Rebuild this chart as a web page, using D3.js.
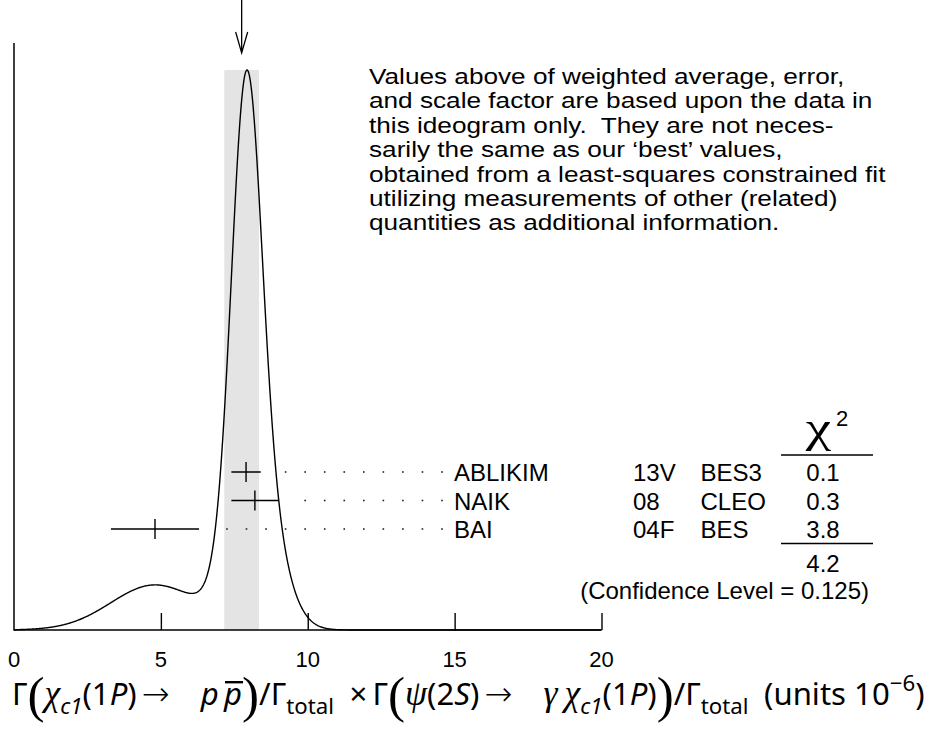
<!DOCTYPE html>
<meta charset="utf-8">
<style>
    body { margin: 0; background: #fff; }
    svg text { font-family: "Liberation Sans", Arial, sans-serif; fill: #000; }
    .tick-label { font-family: "Liberation Sans Narrow", "Liberation Sans", sans-serif; font-size: 22px; }
    .title, .title tspan { font-family: "Noto Sans", "Liberation Sans", sans-serif; }
</style>
<svg width="939" height="735"></svg>
<script src="https://cdn.jsdelivr.net/npm/d3@7"></script>
<script>
    // measurements shown in the ideogram
    var authors = ["ABLIKIM", "NAIK", "BAI"],
        docIds = ["13V", "08", "04F"],
        techs = ["BES3", "CLEO", "BES"],
        values = [7.9, 8.2, 4.8],
        errors = [0.5, 0.8, 1.5],
        chi2 = ["0.1", "0.3", "3.8"],
        chi2Total = "4.2",
        confLevel = "0.125",
        average = 7.75,
        averageError = 0.59,
        xTicks = [0, 5, 10, 15, 20];

    var note = [
        "Values above of weighted average, error,",
        "and scale factor are based upon the data in",
        "this ideogram only.  They are not neces-",
        "sarily the same as our \u2018best\u2019 values,",
        "obtained from a least-squares constrained fit",
        "utilizing measurements of other (related)",
        "quantities as additional information."
    ];

    var svg = d3.select("svg"),
        x = d3.scaleLinear().domain([0, 20]).range([14, 601.5]),
        baseY = 630,
        rowY = d3.scalePoint().domain(authors).range([472, 529]);

    // ideogram: every measurement is a gaussian with area proportional to 1/sigma
    function ideogram(v) {
        return d3.sum(values, function (m, i) {
            var s = errors[i];
            return Math.exp(-(v - m) * (v - m) / (2 * s * s)) / (s * s);
        });
    }
    var samples = d3.range(0, 20.001, 0.02).map(function (v) { return [v, ideogram(v)]; }),
        y = d3.scaleLinear().domain([0, d3.max(samples, function (d) { return d[1]; })]).range([baseY, 70]);

    // shaded band of weighted average +- error
    svg.append("rect")
        .attr("x", x(average - averageError))
        .attr("y", y.range()[1])
        .attr("width", x(average + averageError) - x(average - averageError))
        .attr("height", baseY - y.range()[1])
        .attr("fill", "#e4e4e4");

    // arrow at weighted average
    var ax = x(average);
    svg.append("path")
        .attr("d", "M" + ax + ",0V53M" + (ax - 6) + ",32L" + ax + ",53L" + (ax + 6) + ",32")
        .attr("fill", "none").attr("stroke", "#000").attr("stroke-width", 1.3);

    // curve
    svg.append("path")
        .attr("d", d3.line().x(function (d) { return x(d[0]); }).y(function (d) { return y(d[1]); })(samples))
        .attr("fill", "none").attr("stroke", "#000").attr("stroke-width", 1.4);

    // axes
    var xAxis = d3.axisTop(x).tickValues(xTicks.slice(1)).tickSize(17).tickFormat("");
    var gx = svg.append("g").attr("transform", "translate(0," + baseY + ")").call(xAxis);
    gx.select(".domain").remove();
    gx.selectAll("line").attr("stroke", "#000").attr("stroke-width", 1.4);
    svg.append("path")
        .attr("d", "M" + x(0) + ",43V" + baseY + "H" + x(20))
        .attr("fill", "none").attr("stroke", "#000").attr("stroke-width", 1.5);

    svg.selectAll(".tick-label").data(xTicks).enter().append("text")
        .attr("class", "tick-label")
        .attr("x", function (d) { return x(d); })
        .attr("y", 667)
        .attr("text-anchor", "middle")
        .text(function (d) { return d; });

    // measurements: dotted leaders, error bars
    var dotStep = 19.55, dotEnd = 442;
    authors.forEach(function (a, i) {
        var yy = rowY(a),
            hi = x(values[i] + errors[i]),
            dots = [];
        for (var dx = dotEnd; dx > hi + 10; dx -= dotStep) dots.push(dx);
        svg.append("g").selectAll("rect").data(dots).enter().append("rect")
            .attr("x", function (d) { return d - 0.8; })
            .attr("y", yy - 0.8)
            .attr("width", 1.6).attr("height", 1.6)
            .attr("fill", "#222");
        svg.append("path")
            .attr("d", "M" + x(values[i] - errors[i]) + "," + yy + "H" + hi +
                "M" + x(values[i]) + "," + (yy - 10) + "V" + (yy + 10))
            .attr("stroke", "#000").attr("stroke-width", 1.4).attr("fill", "none");
    });

    var rows = svg.append("g").style("font-size", "24px");
    function column(arr, xx, anchor) {
        rows.selectAll(null).data(arr).enter().append("text")
            .attr("x", xx)
            .attr("y", function (d, i) { return rowY(authors[i]) + 9; })
            .attr("text-anchor", anchor)
            .text(function (d) { return d; });
    }
    column(authors, 454, "start");
    column(docIds, 633, "start");
    column(techs, 700.5, "start");
    column(chi2, 823, "middle");

    // chi-square header, rules and totals
    svg.append("text")
        .attr("transform", "translate(818.5,442) scale(1.3,1)")
        .attr("text-anchor", "middle")
        .style("font-family", "'Liberation Serif', serif").style("font-size", "44px")
        .text("\u03c7");
    svg.append("text").attr("x", 836).attr("y", 426).style("font-size", "22px").text("2");
    svg.append("path")
        .attr("d", "M781,455H873M781,543.5H873")
        .attr("stroke", "#000").attr("stroke-width", 1.3);
    svg.append("text").attr("x", 823).attr("y", 571.5).attr("text-anchor", "middle")
        .style("font-size", "24px").text(chi2Total);
    svg.append("text").attr("x", 869).attr("y", 599).attr("text-anchor", "end")
        .style("font-size", "24px").text("(Confidence Level = " + confLevel + ")");

    // explanatory note
    svg.append("g").selectAll("text").data(note).enter().append("text")
        .attr("transform", function (d, i) { return "translate(369," + (84 + i * 24.4) + ") scale(1.19,1)"; })
        .style("font-size", "22px")
        .style("white-space", "pre")
        .text(function (d) { return d; });

    // x axis title
    var parts = [
        ["\u0393", "n"], ["(", "big"], ["\u03c7", "g"], ["c1", "sub"], ["(1", "n"], ["P", "i"],
        [")\u2009", "n"], ["\u2192", "arr"], ["\u2003", "n"], ["p", "i"], ["\u2009", "n"], ["p", "bar"], [")", "big"], ["/\u0393", "n"],
        ["total", "subn"], ["\u2002\u00d7\u2009\u0393", "n"], ["(", "big"], ["\u03c8", "g"], ["(2", "n"],
        ["S", "i"], [")\u2009", "n"], ["\u2192", "arr"], ["\u2003", "n"], ["\u03b3\u2009\u03c7", "g"], ["c1", "sub"], ["(1", "n"],
        ["P", "i"], [")", "n"], [")", "big"], ["/\u0393", "n"], ["total", "subn"],
        ["\u2002(units 10", "n"], ["\u22126", "sup"], [")", "n"]
    ];
    var sizes = { n: 28, i: 28, bar: 28, arr: 30, sub: 20, subn: 20, sup: 20, g: 32, big: 46 },
        titleY = 705;

    function buildTitle(k) {
        svg.selectAll(".title, .pbar").remove();
        var title = svg.append("text").attr("class", "title").attr("x", 12).attr("y", titleY),
            shift = 0;
        parts.forEach(function (p) {
            var kind = p[1], target = 0,
                ts = title.append("tspan").text(p[0]).style("font-size", (sizes[kind] * k) + "px");
            if (kind === "sub" || kind === "subn") target = 8 * k;
            if (kind === "sup") target = -13 * k;
            if (kind === "big") target = 6 * k;
            ts.attr("dy", target - shift);
            shift = target;
            if (kind === "i" || kind === "sub" || kind === "bar") ts.style("font-style", "italic");
            if (kind === "g") ts.style("font-family", "'Liberation Serif', serif").style("font-style", "italic");
            if (kind === "big") ts.style("font-family", "'Liberation Serif', serif");
            if (kind === "arr") ts.style("font-family", "'DejaVu Sans', sans-serif").style("font-weight", "300");
            if (kind === "bar") ts.classed("bar", true);
        });
        return title;
    }
    var t0 = buildTitle(1),
        k = 913 / t0.node().getComputedTextLength(),
        title = buildTitle(k);
    title.selectAll("tspan.bar").each(function () {
        var bb = this.getBBox(),
            yb = titleY - 0.54 * sizes.bar * k - 6;
        svg.append("line").attr("class", "pbar")
            .attr("x1", bb.x + 2).attr("x2", bb.x + bb.width + 1)
            .attr("y1", yb).attr("y2", yb)
            .attr("stroke", "#000").attr("stroke-width", 2.4);
    });
</script>
